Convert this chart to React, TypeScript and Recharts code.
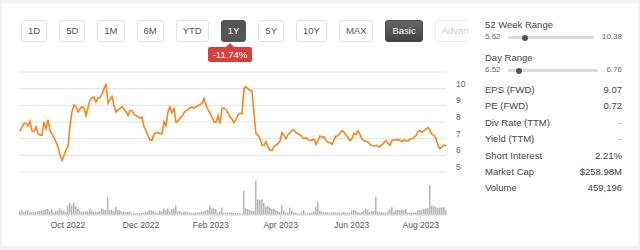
import { ComposedChart, Line, Bar, XAxis, YAxis, CartesianGrid } from "recharts"

// closing price, sampled roughly every 1.2 trading days, Aug 2022 -> Aug 2023
const price = [
  7.44, 7.7, 7.92, 7.92, 7.76, 8.04, 7.46, 7.42, 7.7, 7.3,
  7.22, 7.2, 8.0, 7.6, 8.12, 7.5, 7.26, 7.06, 6.8, 6.52,
  6.0, 5.7, 6.0, 6.32, 6.5, 7.8, 8.6, 9.02, 8.9, 8.6,
  8.78, 8.92, 8.84, 8.38, 8.84, 9.3, 9.46, 9.5, 9.2, 9.44,
  9.46, 9.66, 10.0, 10.24, 9.14, 9.36, 9.52, 9.0, 8.6, 8.74,
  8.8, 8.92, 8.76, 8.62, 8.4, 8.7, 8.68, 8.46, 8.38, 8.32,
  8.22, 8.3, 7.72, 7.48, 7.18, 6.92, 6.9, 7.28, 7.36, 7.36,
  7.3, 7.3, 8.0, 7.78, 8.6, 8.9, 8.55, 8.8, 8.0, 8.06,
  8.22, 8.34, 8.56, 8.68, 8.74, 8.84, 8.9, 8.82, 8.92, 8.98,
  9.04, 9.12, 9.4, 9.0, 8.74, 8.54, 8.3, 8.0, 7.98, 8.36,
  7.9, 8.8, 8.84, 8.74, 8.54, 8.3, 8.18, 7.96, 8.16, 8.42,
  8.52, 8.5, 10.0, 10.12, 9.98, 9.9, 9.84, 8.5, 7.3, 7.2,
  7.0, 6.62, 6.6, 6.82, 6.5, 6.32, 6.3, 6.52, 6.62, 6.7,
  6.84, 7.36, 7.2, 7.0, 7.24, 7.34, 7.5, 7.52, 7.38, 7.28,
  7.24, 7.1, 7.0, 7.06, 6.94, 6.88, 6.92, 6.96, 6.65, 6.9,
  7.16, 7.08, 7.12, 6.9, 6.78, 6.76, 6.66, 6.94, 7.16, 7.18,
  7.32, 7.48, 7.4, 7.22, 7.06, 6.88, 7.0, 7.32, 7.24, 7.48,
  7.24, 6.98, 6.88, 6.84, 6.8, 6.66, 6.58, 6.56, 6.6, 6.52,
  6.52, 6.64, 6.78, 6.88, 6.72, 6.6, 6.9, 6.92, 6.92, 6.94,
  6.9, 6.82, 6.94, 6.86, 6.86, 6.98, 7.0, 7.06, 7.18, 7.44,
  7.48, 7.38, 7.48, 7.58, 7.68, 7.5, 7.26, 7.18, 7.0, 6.6,
  6.4, 6.5, 6.62, 6.56,
]

// volume in thousands of shares
const volume = [
  400, 500, 300, 400, 500, 300, 250, 300, 300, 400,
  400, 450, 500, 600, 600, 350, 600, 250, 400, 450,
  650, 500, 400, 300, 900, 1200, 950, 1250, 850, 600,
  450, 300, 350, 350, 400, 600, 450, 300, 350, 300,
  400, 650, 550, 500, 1770, 500, 550, 400, 800, 500,
  450, 350, 350, 300, 350, 350, 150, 150, 150, 200,
  150, 200, 250, 350, 350, 500, 450, 350, 250, 200,
  400, 350, 650, 500, 650, 350, 600, 650, 950, 350,
  400, 250, 350, 350, 250, 250, 200, 200, 250, 250,
  250, 350, 400, 450, 550, 900, 650, 650, 600, 250,
  350, 750, 250, 250, 250, 250, 250, 250, 200, 200,
  150, 150, 2400, 670, 600, 500, 400, 400, 3450, 1550,
  1500, 1570, 1200, 850, 900, 750, 600, 650, 500, 400,
  300, 1000, 400, 250, 250, 730, 400, 250, 250, 150,
  150, 250, 450, 150, 170, 220, 250, 350, 800, 1330,
  400, 350, 250, 300, 250, 200, 300, 250, 250, 250,
  200, 250, 300, 250, 200, 250, 450, 530, 450, 300,
  250, 300, 450, 650, 500, 300, 450, 400, 1830, 330,
  250, 300, 250, 250, 350, 600, 770, 350, 500, 550,
  500, 550, 500, 600, 250, 200, 200, 200, 250, 500,
  450, 500, 600, 650, 700, 3000, 930, 900, 800, 700,
  750, 750, 800, 500,
]

const priceTicks = [5, 6, 7, 8, 9, 10, 11]
const monthTicks = [24, 60.5, 95.35, 130.35, 165.85, 200.35]
const monthLabels = ["Oct 2022", "Dec 2022", "Feb 2023", "Apr 2023", "Jun 2023", "Aug 2023"]

const periods = ["1D", "5D", "1M", "6M", "YTD", "1Y", "5Y", "10Y", "MAX"]
const activePeriod = "1Y"
const periodChange = "-11.74%"

const weekRange = [5.62, 10.38]
const dayRange = [6.52, 6.76]
const stats = [
  ["EPS (FWD)", "9.07"],
  ["PE (FWD)", "0.72"],
  ["Div Rate (TTM)", "-"],
  ["Yield (TTM)", "-"],
  ["Short Interest", "2.21%"],
  ["Market Cap", "$258.98M"],
  ["Volume", "459,196"],
]

const data = price.map((p, i) => ({ i, price: p, volume: volume[i] }))
const lastPrice = price[price.length - 1]

const FONT = "'Liberation Sans', Arial, sans-serif"

function PriceTick({ x, y, payload }: any) {
  if (payload.value === 11) return null
  return (
    <text x={x} y={y - 5} dy="0.35em" fontSize={8.5} fill="#666" fontFamily={FONT} textAnchor="start">
      {payload.value}
    </text>
  )
}

function Slider({ top, lo, hi, value, trackWidth }: any) {
  const frac = (value - lo) / (hi - lo)
  return (
    <div style={{ position: "absolute", left: 485, top, width: 137, height: 12, fontSize: 8, color: "#666", lineHeight: "12px" }}>
      <span style={{ position: "absolute", left: 0 }}>{lo.toFixed(2)}</span>
      <div style={{ position: "absolute", left: 23, top: 5, width: trackWidth, height: 3, background: "#dcdcdc", borderRadius: 1 }} />
      <div style={{ position: "absolute", left: 23 + frac * trackWidth - 3, top: 3.5, width: 6, height: 6, borderRadius: 3, background: "#555" }} />
      <span style={{ position: "absolute", right: 0 }}>{hi.toFixed(2)}</span>
    </div>
  )
}

export default function App() {
  return (
    <div style={{ position: "absolute", left: 0, top: 0, width: 640, height: 250, background: "#f3f2f0", fontFamily: FONT }}>
      <div style={{ position: "absolute", left: 2, top: 3, width: 636, height: 243, background: "#fff" }} />

      <div style={{ position: "absolute", left: 0, top: 0, width: 468, height: 60, overflow: "hidden" }}>
        <div style={{ position: "absolute", left: 21, top: 20, display: "flex", gap: 12 }}>
          {periods.map((p) => {
            const on = p === activePeriod
            return (
              <div
                key={p}
                style={{
                  height: 20,
                  lineHeight: "20px",
                  padding: "0 6px",
                  fontSize: 9.5,
                  borderRadius: 3,
                  border: on ? "1px solid #555" : "1px solid #e2e2e2",
                  background: on ? "#555" : "#fff",
                  color: on ? "#fff" : "#555",
                  whiteSpace: "nowrap",
                }}
              >
                {p}
              </div>
            )
          })}
          <div
            style={{
              height: 20, lineHeight: "20px", padding: "0 6px", fontSize: 9.5, borderRadius: 3,
              border: "1px solid #444", background: "linear-gradient(#666, #444)", color: "#fff",
            }}
          >
            Basic
          </div>
          <div
            style={{
              height: 20, lineHeight: "20px", padding: "0 6px", fontSize: 9.5, borderRadius: 3,
              border: "1px solid #eee", background: "#fff", color: "#ccc", whiteSpace: "nowrap",
            }}
          >
            Advanced
          </div>
        </div>
      </div>

      <div
        style={{
          position: "absolute", left: 226, top: 43, width: 0, height: 0,
          borderLeft: "4px solid transparent", borderRight: "4px solid transparent", borderBottom: "4px solid #d6403a",
        }}
      />
      <div
        style={{
          position: "absolute", left: 208, top: 47, width: 44, height: 15, lineHeight: "15px", borderRadius: 2,
          background: "#d6403a", color: "#fff", fontSize: 9.5, textAlign: "center",
        }}
      >
        {periodChange}
      </div>

      <div style={{ position: "absolute", left: 0, top: 0 }}>
        <ComposedChart width={640} height={250} data={data} margin={{ top: 72, right: 154, bottom: 5, left: 20 }}>
          <CartesianGrid vertical={false} stroke="#e4e4e4" />
          <XAxis
            dataKey="i"
            type="number"
            domain={[0, price.length - 1]}
            ticks={monthTicks}
            interval={0}
            tickFormatter={(v) => monthLabels[monthTicks.indexOf(v)]}
            tick={{ fontSize: 8.5, fill: "#555", fontFamily: FONT }}
            axisLine={{ stroke: "#e6e6e6" }}
            tickLine={{ stroke: "#dddddd" }}
            tickSize={5}
            height={30}
          />
          <YAxis
            orientation="right"
            domain={[2.42, 11]}
            ticks={priceTicks}
            interval={0}
            tick={<PriceTick />}
            axisLine={false}
            tickLine={false}
            tickMargin={4}
            width={40}
            allowDataOverflow
          />
          <YAxis yAxisId="vol" hide domain={[0, 14300]} allowDataOverflow />
          <Bar yAxisId="vol" dataKey="volume" fill="#b5b5b5" barSize={1.5} isAnimationActive={false} />
          <Line
            type="linear"
            dataKey="price"
            stroke="#fb8418"
            strokeWidth={1.6}
            dot={false}
            isAnimationActive={false}
          />
        </ComposedChart>
      </div>

      <div style={{ position: "absolute", left: 485, top: 19, fontSize: 9.5, color: "#444", lineHeight: "12px" }}>52 Week Range</div>
      <Slider top={31} lo={weekRange[0]} hi={weekRange[1]} value={lastPrice} trackWidth={86} />
      <div style={{ position: "absolute", left: 485, top: 52, fontSize: 9.5, color: "#444", lineHeight: "12px" }}>Day Range</div>
      <Slider top={64} lo={dayRange[0]} hi={dayRange[1]} value={6.55} trackWidth={90} />

      {stats.map(([label, value], idx) => (
        <div
          key={label}
          style={{
            position: "absolute", left: 485, width: 137, top: 84 + idx * 16.4, height: 12, lineHeight: "12px",
            fontSize: 9.5, color: "#444", display: "flex", justifyContent: "space-between",
          }}
        >
          <span>{label}</span>
          <span style={{ color: value === "-" ? "#999" : "#444" }}>{value}</span>
        </div>
      ))}
    </div>
  )
}
